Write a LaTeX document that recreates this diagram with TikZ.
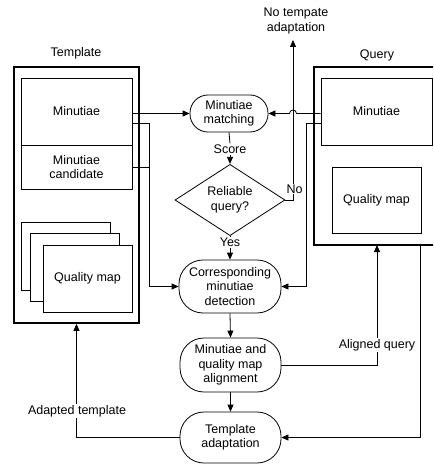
\documentclass[tikz,border=0pt]{standalone}
\usepackage{fontspec}
\setmainfont{Liberation Sans}
\usetikzlibrary{shapes.geometric,arrows.meta}
\begin{document}
\begin{tikzpicture}[x=1pt,y=-1pt,
  every node/.style={font=\fontsize{12.5}{14.5}\selectfont, align=center},
  thickbox/.style={draw, line width=1.8pt, inner sep=0pt},
  thinbox/.style={draw, line width=0.8pt, inner sep=0pt, fill=white},
  process/.style={draw, line width=0.8pt, inner sep=0pt, fill=white},
  conn/.style={line width=0.8pt, -{Triangle[length=7pt,width=6pt]}},
  plain/.style={line width=0.8pt},
  lab/.style={inner sep=1.5pt, fill=white}]
\path[use as bounding box, clip] (0,0) rectangle (433,465);

% Template block
\node (tlab) at (76,53) {Template};
\node[thickbox, minimum width=125pt, minimum height=256pt] (tbox) at (76.5,195) {};
\node[thinbox, minimum width=111pt, minimum height=67pt] (tmin) at (76.5,111.5) {Minutiae};
\node[thinbox, minimum width=111pt, minimum height=44pt] (tcand) at (76.5,167) {Minutiae\\candidate};
\node[thinbox, minimum width=89pt, minimum height=68pt] (q1) at (65.5,256) {};
\node[thinbox, minimum width=89pt, minimum height=68pt] (q2) at (74.5,267) {};
\node[thinbox, minimum width=89pt, minimum height=67pt] (q3) at (87.5,278.5) {Quality map};

% Query block
\node (qlab) at (377,55) {Query};
\node[thickbox, minimum width=122pt, minimum height=178pt] (qbox) at (375,156) {};
\node[thinbox, minimum width=111pt, minimum height=67pt] (qmin) at (376.5,111.5) {Minutiae};
\node[thinbox, minimum width=89pt, minimum height=66pt] (qmap) at (376.5,200) {Quality map};

% Middle column
\node[process, rounded corners=18pt, minimum width=78pt, minimum height=37pt] (match) at (229,113.5) {Minutiae\\matching};
\node[draw, line width=0.8pt, diamond, inner sep=0pt, minimum width=110pt, minimum height=65pt] (rel) at (230,200) {Reliable\\query?};
\node[process, rounded corners=24pt, minimum width=102pt, minimum height=53pt] (corr) at (230,286.5) {Corresponding\\minutiae\\detection};
\node[process, rounded corners=24pt, minimum width=101pt, minimum height=54pt] (align) at (230.5,365) {Minutiae and\\quality map\\alignment};
\node[process, rounded corners=24pt, minimum width=101pt, minimum height=51pt] (adapt) at (230.5,437.5) {Template\\adaptation};

% labels on the flow
\node[inner sep=1pt] (score) at (230,149) {Score};
\node[inner sep=1pt] (yes) at (230,242) {Yes};
\node (nolab) at (296,21) {No tempate\\adaptation};

\coordinate (noend) at (293,40);
\coordinate (ta) at (149,123);
\coordinate (qa) at (306,123);
\coordinate (qd) at (420,245);
\coordinate (aq) at (377,245);

% connectors
\draw[conn] (tmin.east |- match.west) -- (match.west);
\draw[plain] (tmin.east |- ta) -- (ta);
\draw[plain] (tcand.east) -- (tcand.east -| ta);
\draw[conn] (ta) |- (corr.west);

\draw[plain] (match.south) -- (score.north);
\draw[conn] (score.south) -- (rel.north);
\draw[plain] (rel.south) -- (yes.north);
\draw[conn] (yes.south) -- (corr.north);
\draw[conn] (rel.east) -| (noend);
\node[inner sep=1pt, fill=white] (no) at (294.5,189) {No};

\draw[conn] (qmin.west |- match.east) -- (296.5,113.5) arc (0:180:3.5pt) -- (match.east);
\draw[conn] (qmin.west |- qa) -- (qa) |- (corr.east);

\draw[conn] (corr.south) -- (align.north);
\draw[conn] (align.south) -- (adapt.north);

\draw[conn] (align.east) -| (aq);
\node[lab] (alab) at (377,345) {Aligned query};
\draw[conn] (qd) |- (adapt.east);
\draw[conn] (adapt.west) -| (tbox.south);
\node[lab] (tlab2) at (77,411) {Adapted template};
\end{tikzpicture}
\end{document}
